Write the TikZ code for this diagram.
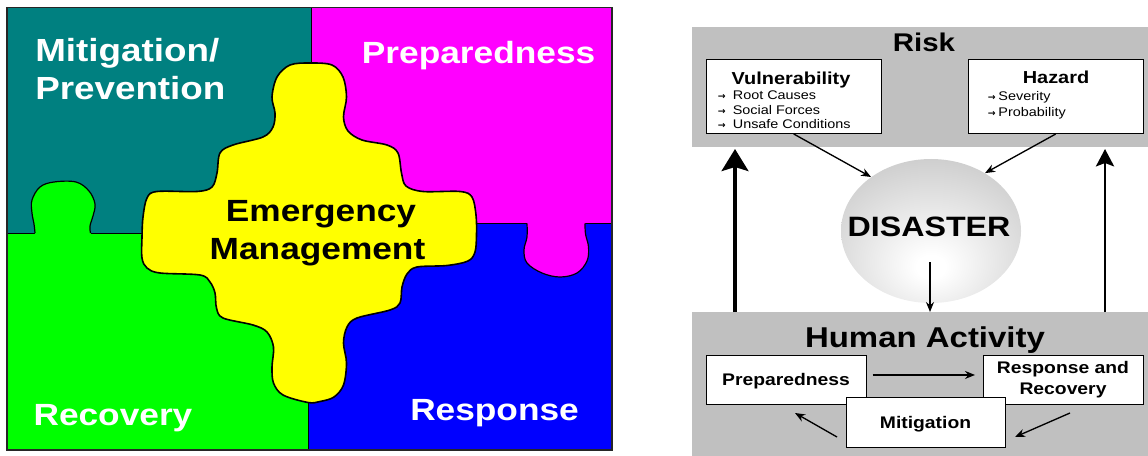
\documentclass[tikz,border=0pt]{standalone}
\usepackage{fontspec}
\usetikzlibrary{shapes.geometric,arrows.meta}
\newfontfamily\hv[FakeStretch=1.15]{Liberation Sans}
\newfontfamily\arw{DejaVu Sans}
\definecolor{pteal}{HTML}{008080}
\definecolor{pmag}{HTML}{FF00FF}
\definecolor{pgreen}{HTML}{00FF00}
\definecolor{pblue}{HTML}{0000FF}
\definecolor{pyel}{HTML}{FFFF00}
\definecolor{bandgray}{HTML}{C0C0C0}
\definecolor{shgray}{HTML}{BDBDBD}
\pgfdeclareradialshading{disshade}{\pgfpoint{0bp}{-13bp}}{color(0bp)=(white); color(4bp)=(white); color(44bp)=(shgray); color(90bp)=(shgray)}
\begin{document}
\begin{tikzpicture}[x=0.75pt,y=-0.75pt,
  plbl/.style={font=\hv\bfseries\fontsize{23}{27}\selectfont, text=white, inner sep=0pt, anchor=base west},
  emlbl/.style={font=\hv\bfseries\fontsize{23}{27}\selectfont, text=black, inner sep=0pt, anchor=base},
  sep/.style={draw=black, line width=0.7pt},
  band/.style={fill=bandgray, draw=none, inner sep=0pt, outer sep=0pt, anchor=north west, minimum width=342pt},
  wbox/.style={draw=black, fill=white, line width=0.75pt, inner sep=0pt, outer sep=0pt},
  head/.style={font=\hv\bfseries\fontsize{13}{15}\selectfont, inner sep=0pt, anchor=base},
  bul/.style={font=\hv\fontsize{9.4}{11}\selectfont, inner sep=0pt, anchor=base west},
  boxtxt/.style={font=\hv\bfseries\fontsize{12.6}{15.5}\selectfont, align=center},
  arr/.style={line width=1pt, -{Stealth[length=7.5pt,width=6pt]}},
]
\newcommand{\barrow}{{\arw\bfseries\fontsize{7}{8}\selectfont →}}
\useasboundingbox (0,0) rectangle (1148,456);
% ---------------- left: puzzle ----------------
\fill[pteal] (7,7.5) rectangle (311,233);
\fill[pmag] (311,7.5) rectangle (612,223.5);
\fill[pgreen] (7,233) rectangle (308.5,450);
\fill[pblue] (308.5,223.5) rectangle (612,450);
\draw[sep] (7,233) -- (35,233);
\draw[sep] (90.5,233) -- (142,233);
\draw[sep] (476,223.5) -- (527,223.5);
\draw[sep] (585,223.5) -- (612,223.5);
\draw[sep] (311,7.5) -- (311,64);
\draw[sep] (308.5,402) -- (308.5,450);
% green knob
\fill[pgreen] plot[smooth, tension=0.6] coordinates {(35,233.6) (34,224) (32,213) (32,200) (40,187) (54,182) (76,182) (89,191) (95,204) (93,216) (90,226) (90.5,233.6)} -- cycle;
\draw[line width=0.9pt] plot[smooth, tension=0.6] coordinates {(35,233) (34,224) (32,213) (32,200) (40,187) (54,182) (76,182) (89,191) (95,204) (93,216) (90,226) (90.5,233)};
% magenta knob
\fill[pmag] plot[smooth, tension=0.6] coordinates {(527,223) (527,237) (524,250) (527,263) (542,273) (560,277) (577,273) (587,261) (588.5,247) (585.5,234) (585,223)} -- cycle;
\draw[line width=0.9pt] plot[smooth, tension=0.6] coordinates {(527,223.5) (527,237) (524,250) (527,263) (542,273) (560,277) (577,273) (587,261) (588.5,247) (585.5,234) (585,223.5)};
% yellow centre piece
\filldraw[fill=pyel, draw=black, line width=1.2pt] plot[smooth cycle, tension=0.55] coordinates {
(310,63) (332,65) (343,77) (346.5,97) (343.5,117) (348,131) (362,140) (387,145) (398,153) (401.5,173) (406,186) (423,191.5) (460,191.5) (472,197) (476,215) (476.5,235) (475,252) (468,261) (447,265.5) (417,267) (407,274) (402,287) (400,303) (390,310) (357,318) (347,327) (343.5,343) (346.5,363) (343.5,385) (334,397) (320,401.5) (308,402.5) (283,395) (273.5,383) (272,367) (273.5,347) (267,332) (253,325) (223,318) (216.5,308) (215,293) (210,282) (200,275) (160,273) (147,268) (142,258) (142,237) (143,217) (147,198) (157,191.5) (197,191.5) (212,187) (217,173) (220,153) (233,145) (263,137) (273,127) (275,113) (272,97) (277,77) (290,65)};
\draw[line width=1pt, draw=black!85] (7,7.5) rectangle (612,450);
\node[plbl, font=\hv\bfseries\fontsize{24}{28}\selectfont] (mit1) at (35,61.7) {Mitigation/};
\node[plbl, font=\hv\bfseries\fontsize{24}{28}\selectfont] (mit2) at (35,99.3) {Prevention};
\node[plbl] (prp) at (361.7,63.3) {Preparedness};
\node[plbl] (rec) at (33.3,425) {Recovery};
\node[plbl] (rsp) at (410,420) {Response};
\node[emlbl] (em1) at (321,221) {Emergency};
\node[emlbl] (em2) at (317.5,259) {Management};
% ---------------- right: risk diagram ----------------
\node[band, minimum height=90pt] (topband) at (692,27) {};
\node[band, minimum height=108pt] (lowband) at (692,312) {};
\node[font=\hv\bfseries\fontsize{19.2}{22}\selectfont, inner sep=0pt, anchor=base] (risk) at (924,51.7) {Risk};
\node[wbox, minimum width=130.9pt, minimum height=55.5pt] (vul) at (793.75,97) {};
\node[wbox, minimum width=131pt, minimum height=55.5pt] (haz) at (1055.7,97) {};
\node[head] (vulh) at (791,84.3) {Vulnerability};
\node[bul] (v1) at (717.5,100) {\makebox[11.3pt][l]{\barrow}Root Causes};
\node[bul] (v2) at (717.5,114.5) {\makebox[11.3pt][l]{\barrow}Social Forces};
\node[bul] (v3) at (717.5,129) {\makebox[11.3pt][l]{\barrow}Unsafe Conditions};
\node[head] (hazh) at (1056,83.3) {Hazard};
\node[bul] (h1) at (987.5,101) {\makebox[8pt][l]{\barrow}Severity};
\node[bul] (h2) at (987.5,116.5) {\makebox[8pt][l]{\barrow}Probability};
\node[ellipse, shade, shading=disshade, draw=none, minimum width=135pt, minimum height=108pt, inner sep=0pt] (dis) at (931,231) {};
\node[font=\hv\bfseries\fontsize{21}{24}\selectfont, inner sep=0pt, anchor=base] (distxt) at (929,236.7) {DISASTER};
\draw[arr] (vul.south) -- (dis.138);
\draw[arr] (haz.south) -- (dis.47);
\coordinate (dstart) at (930,262);
\draw[arr] (dstart) -- (dstart |- lowband.north);
\coordinate (la) at (735,0);
\coordinate (ra) at (1105,0);
\draw[line width=3pt, -{Stealth[length=16.5pt,width=20pt,inset=3pt]}, shorten >=1.5pt] (la |- lowband.north) -- (la |- topband.south);
\draw[line width=2.2pt, -{Stealth[length=13pt,width=13.5pt,inset=2.5pt]}, shorten >=1.5pt] (ra |- lowband.north) -- (ra |- topband.south);
\node[font=\hv\bfseries\fontsize{21.5}{24}\selectfont, inner sep=0pt, anchor=base] (hact) at (925,347) {Human Activity};
\node[wbox, boxtxt, minimum width=120pt, minimum height=36.75pt, text depth=0pt] (prep) at (786,379.5) {Preparedness};
\node[wbox, boxtxt, minimum width=120pt, minimum height=36.75pt] (rr) at (1063,379.5) {Response and\\Recovery};
\node[wbox, boxtxt, minimum width=119.25pt, minimum height=37.5pt, text depth=0pt] (mitg) at (925.5,422) {Mitigation};
\draw[arr, shorten <=5pt, shorten >=6pt] ([yshift=3.4pt]prep.east) -- ([yshift=3.4pt]rr.west);
\coordinate (m1) at (837,437);
\coordinate (p1) at (795,413);
\coordinate (r1) at (1070,413);
\coordinate (m2) at (1015,437);
\draw[arr] (m1) -- (p1);
\draw[arr] (r1) -- (m2);
\end{tikzpicture}
\end{document}
